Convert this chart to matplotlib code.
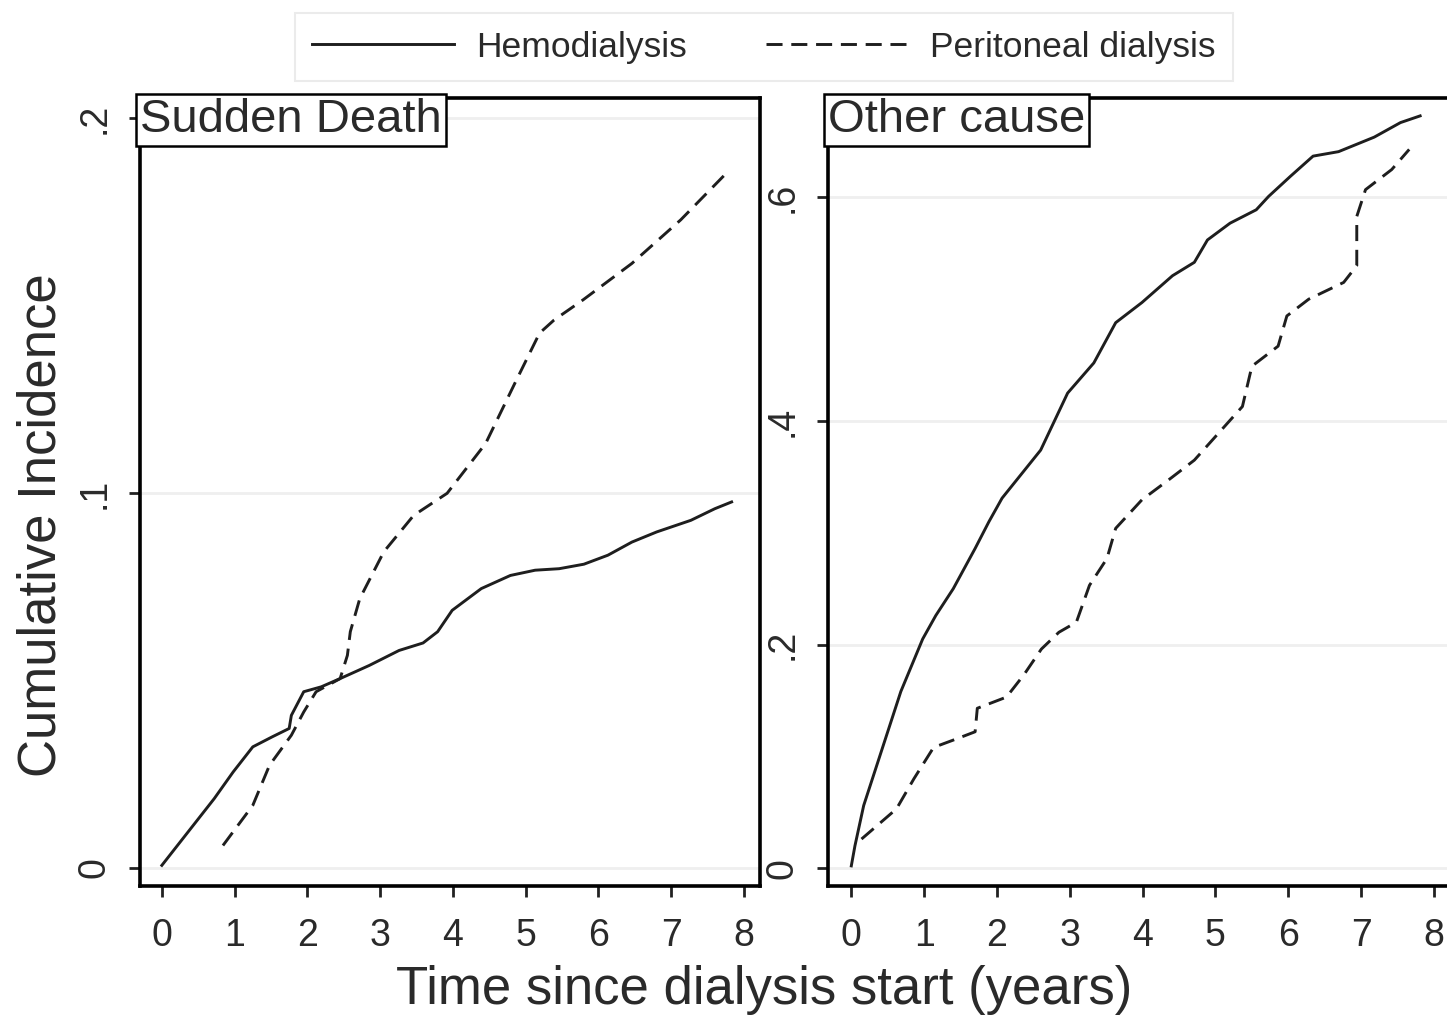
import matplotlib
matplotlib.use("Agg")
import matplotlib.pyplot as plt
from matplotlib.lines import Line2D

plt.rcParams['font.family'] = ['Liberation Sans', 'DejaVu Sans']

# Sudden death panel
sd_hd_t = [0.0, 0.72, 0.98, 1.25, 1.52, 1.75, 1.78, 1.95, 2.19, 2.45, 2.85, 3.26, 3.59,
           3.79, 3.99, 4.39, 4.79, 5.13, 5.46, 5.80, 6.13, 6.46, 6.80, 7.27, 7.60, 7.83]
sd_hd_ci = [0.0007, 0.0185, 0.0256, 0.0323, 0.035, 0.0372, 0.0407, 0.047, 0.0483, 0.0505,
            0.054, 0.058, 0.060, 0.063, 0.0687, 0.0745, 0.078, 0.0794, 0.0798, 0.081,
            0.0834, 0.0869, 0.0896, 0.0927, 0.0958, 0.0976]
sd_pd_t = [0.84, 1.25, 1.48, 1.78, 1.95, 2.12, 2.45, 2.55, 2.59, 2.72, 3.05, 3.46, 3.92,
           4.45, 4.85, 5.19, 5.39, 5.79, 6.46, 7.13, 7.80]
sd_pd_ci = [0.006, 0.0167, 0.0274, 0.0354, 0.0416, 0.047, 0.0505, 0.0567, 0.063, 0.0718,
            0.0843, 0.094, 0.0999, 0.1132, 0.1292, 0.1426, 0.1461, 0.1515, 0.1612,
            0.1728, 0.1861]

# Other cause panel
oc_hd_t = [0.0, 0.05, 0.17, 0.38, 0.68, 0.98, 1.16, 1.40, 1.70, 1.89, 2.07, 2.60, 2.97,
           3.33, 3.63, 3.99, 4.41, 4.71, 4.89, 5.20, 5.56, 5.73, 6.03, 6.34, 6.69, 7.18,
           7.54, 7.81]
oc_hd_ci = [0.002, 0.020, 0.056, 0.098, 0.158, 0.205, 0.226, 0.250, 0.286, 0.310, 0.331,
            0.374, 0.425, 0.452, 0.488, 0.506, 0.530, 0.542, 0.562, 0.577, 0.589, 0.601,
            0.619, 0.637, 0.641, 0.654, 0.667, 0.673]
oc_pd_t = [0.14, 0.62, 0.86, 1.13, 1.46, 1.70, 1.73, 2.13, 2.37, 2.61, 2.85, 3.09, 3.27,
           3.51, 3.63, 3.99, 4.35, 4.71, 5.37, 5.50, 5.86, 5.98, 6.28, 6.76, 6.94, 6.94,
           7.06, 7.42, 7.66]
oc_pd_ci = [0.026, 0.053, 0.080, 0.108, 0.116, 0.122, 0.143, 0.153, 0.173, 0.196, 0.211,
            0.220, 0.253, 0.277, 0.304, 0.3295, 0.347, 0.365, 0.413, 0.449, 0.467, 0.494,
            0.509, 0.524, 0.539, 0.583, 0.607, 0.625, 0.643]

x_ticks = [0, 1, 2, 3, 4, 5, 6, 7, 8]
sd_yticks = [0, 0.1, 0.2]
sd_ylabels = ['0', '.1', '.2']
oc_yticks = [0, 0.2, 0.4, 0.6]
oc_ylabels = ['0', '.2', '.4', '.6']

line_col = '#1e1e1e'
text_col = '#2a2a2a'
dash = (0, (5.5, 3))

W, H = 1447, 1022
fig = plt.figure(figsize=(W / 100, H / 100), dpi=100)

ax1 = fig.add_axes([140 / W, 1 - 886 / H, 620 / W, 788 / H])
ax2 = fig.add_axes([828 / W, 1 - 886 / H, 622 / W, 788 / H])


def style(ax, yt, yl, ylim, xlim, title):
    ax.set_xlim(*xlim)
    ax.set_ylim(*ylim)
    ax.set_xticks(x_ticks)
    ax.set_yticks(yt)
    ax.set_yticklabels(yl, rotation=90, va='center')
    for y in yt:
        ax.axhline(y, color='#efefef', lw=2, zorder=0)
    for s in ax.spines.values():
        s.set_linewidth(2.6)
        s.set_color('black')
    ax.tick_params(axis='both', direction='out', length=8, width=2, color='#222222',
                   labelsize=27, labelcolor=text_col)
    ax.tick_params(axis='x', pad=15)
    ax.tick_params(axis='y', pad=12)
    ax.text(0.0, 1.0, title, transform=ax.transAxes, ha='left', va='top', fontsize=34,
            color=text_col,
            bbox=dict(boxstyle='square,pad=0.08', fc='white', ec='black', lw=1.8))


ax1.plot(sd_hd_t, sd_hd_ci, color=line_col, lw=2.1)
ax1.plot(sd_pd_t, sd_pd_ci, color=line_col, lw=2.1, linestyle=dash)
style(ax1, sd_yticks, sd_ylabels, (-0.0048, 0.2053), (-0.30, 8.22), 'Sudden Death')

ax2.plot(oc_hd_t, oc_hd_ci, color=line_col, lw=2.1)
ax2.plot(oc_pd_t, oc_pd_ci, color=line_col, lw=2.1, linestyle=dash)
style(ax2, oc_yticks, oc_ylabels, (-0.016, 0.689), (-0.32, 8.22), 'Other cause')
ax2.spines['right'].set_visible(False)

fig.text(42 / W, 1 - 525 / H, 'Cumulative Incidence', rotation=90, ha='center',
         va='center', fontsize=38, color=text_col)
fig.text(764 / W, 1 - 990 / H, 'Time since dialysis start (years)', ha='center',
         va='center', fontsize=38, color=text_col)

handles = [Line2D([], [], color=line_col, lw=2.1),
           Line2D([], [], color=line_col, lw=2.1, linestyle=dash)]
leg = fig.legend(handles, ['Hemodialysis', 'Peritoneal dialysis'], loc='center',
                 bbox_to_anchor=(764 / W, 1 - 47 / H), ncol=2, fontsize=25.5,
                 frameon=True, fancybox=False, edgecolor='#e6e6e6',
                 handlelength=4.0, handletextpad=0.62, columnspacing=2.25,
                 borderpad=0.5, borderaxespad=0)
leg.get_frame().set_linewidth(1.5)
for t in leg.get_texts():
    t.set_color(text_col)

fig.savefig('out.png', dpi=100)
